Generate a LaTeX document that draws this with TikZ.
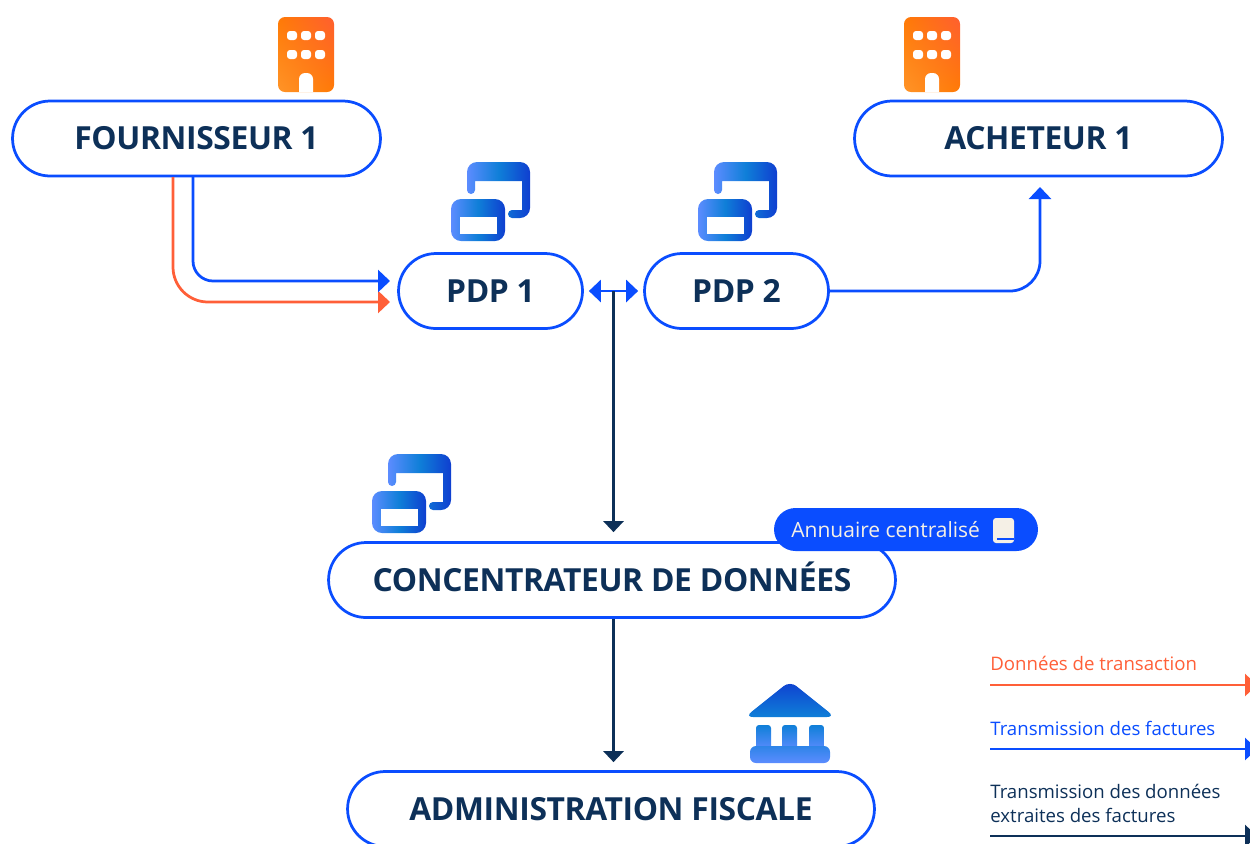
\documentclass[tikz,border=0pt]{standalone}
\usepackage{fontspec}
\setmainfont{Open Sans}
\usetikzlibrary{arrows.meta, calc, shapes.misc, shadings}
\definecolor{flowBlue}{HTML}{0A4DFF}
\definecolor{flowOrange}{HTML}{FF5F38}
\definecolor{flowDark}{HTML}{0D3058}
\definecolor{bookColor}{HTML}{F5F0E6}
\definecolor{orangeLight}{HTML}{FF9428}
\definecolor{orangeMid}{HTML}{FF7A05}
\definecolor{orangeDark}{HTML}{FF5F30}
\definecolor{stackLight}{HTML}{5C8CFF}
\definecolor{stackMid}{HTML}{0F7FD8}
\definecolor{stackDark}{HTML}{0F3FD0}

% icons are drawn in pixels from their top left corner
\newcommand{\buildingIcon}[2]{
	\begin{scope}[shift={(#1,#2)}]
		\shade[lower left=orangeLight, lower right=orangeMid, upper left=orangeMid, upper right=orangeDark, rounded corners=.14cm] (0,0) rectangle (56,75);
		\foreach \wx in {9, 23, 37} {
			\foreach \wy in {14, 33} {
				\fill[white, rounded corners=.06cm] (\wx,\wy) rectangle ++(10,9);
			}
		}
		\fill[white, rounded corners=.12cm] (21,75) -- (21,56) -- (35,56) [sharp corners] -- (35,75) -- cycle;
	\end{scope}
}
\newcommand{\stackIcon}[2]{
	\begin{scope}[shift={(#1,#2)}]
		\shade[stackShade, rounded corners=.2cm] (16,28) -- (16,0) -- (79,0) -- (79,56) [sharp corners] -- (61,56) -- (61,48) -- (71,48) -- (71,19) -- (24,19) -- (24,28) -- cycle
			(20,28) circle (4) (61,52) circle (4);
		\shade[stackShade, rounded corners=.2cm] (0,37) rectangle (54,79);
		\fill[white] (9,55) rectangle (46,72);
	\end{scope}
}

\tikzset{
	stackShade/.style={left color=stackLight, right color=stackDark, middle color=stackMid},
	actorBox/.style={draw=flowBlue, line width=.055cm, fill=white, rounded rectangle, minimum height=1.5cm, inner sep=0pt, text=flowDark, text height=13pt, text depth=0pt, font=\fontsize{18.1}{22}\selectfont\bfseries\addfontfeature{LetterSpace=-1.2}},
	legendText/.style={anchor=west, align=left, inner sep=0pt, font=\fontsize{10.6}{13.6}\selectfont},
	flowLine/.style={line width=.055cm, -{Triangle[length=.24cm, width=.44cm]}}
}

\begin{document}
\begin{tikzpicture}[x=.02cm, y=-.02cm]
		\useasboundingbox (0,0) rectangle (1250,843);
		\clip (0,0) rectangle (1250,843);
		
		% --- 1. Boxes ---
		\node[actorBox, minimum width=7.36cm] (fournisseur) at (196.5,138.5) {FOURNISSEUR 1};
		\node[actorBox, minimum width=7.36cm] (acheteur) at (1038.5,138.5) {ACHETEUR 1};
		\node[actorBox, minimum width=3.68cm] (pdpOne) at (490.5,291) {PDP 1};
		\node[actorBox, minimum width=3.68cm] (pdpTwo) at (736.5,291) {PDP 2};
		\node[actorBox, minimum width=11.34cm] (concentrateur) at (612,580) {CONCENTRATEUR DE DONNÉES};
		\node[actorBox, minimum width=10.54cm] (administration) at (611,809) {ADMINISTRATION FISCALE};
		
		% --- 2. Icons ---
		\buildingIcon{278}{17}
		\buildingIcon{904}{17}
		\stackIcon{451}{162}
		\stackIcon{698}{162}
		\stackIcon{372}{454}
		
		% bank
		\shade[top color=stackDark, bottom color=stackMid, rounded corners=.16cm] (790,681) -- (835,717) -- (745,717) -- cycle;
		\shade[top color=stackMid, bottom color=stackLight, rounded corners=.06cm] (756,725) rectangle (771,750) (782,725) rectangle (797,750) (809,725) rectangle (824,750);
		\shade[top color=stackMid!60!stackLight, bottom color=stackLight, rounded corners=.12cm] (750,746) rectangle (830,763);
		
		% --- 3. Connectors ---
		\coordinate (fourBlue) at (193,177);
		\coordinate (fourOrange) at (173,177);
		\coordinate (pdpBlue) at (390,281);
		\coordinate (pdpOrange) at (390,302);
		\coordinate (acheteurIn) at (1040,187);
		\coordinate (pdpLink) at ($(pdpOne.east)!.5!(pdpTwo.west)$);
		
		\draw[flowLine, flowOrange, rounded corners=.7cm] (fourOrange) |- (pdpOrange);
		\draw[flowLine, flowBlue, rounded corners=.4cm] (fourBlue) |- (pdpBlue);
		\draw[flowLine, flowBlue, rounded corners=.6cm] (pdpTwo.east) -| (acheteurIn);
		\draw[line width=.055cm, flowBlue, {Triangle[length=.24cm, width=.44cm]}-{Triangle[length=.24cm, width=.44cm]}, shorten <=.1cm, shorten >=.1cm] (pdpOne.east) -- (pdpTwo.west);
		\draw[line width=.055cm, flowDark, -{Triangle[length=.22cm, width=.4cm]}, shorten >=.18cm] (pdpLink) -- (pdpLink |- concentrateur.north);
		\draw[line width=.055cm, flowDark, -{Triangle[length=.22cm, width=.4cm]}, shorten >=.16cm] (pdpLink |- concentrateur.south) -- (pdpLink |- administration.north);
		
		% --- 4. Directory tag ---
		\node[fill=flowBlue, rounded rectangle, minimum width=5.28cm, minimum height=.86cm, inner sep=0pt] (annuaire) at (906,529.5) {};
		\node[anchor=west, inner sep=0pt, text=bookColor, font=\fontsize{11.95}{14}\selectfont] (annuaireText) at (791,529.5) {Annuaire centralisé};
		\fill[bookColor, rounded corners=.06cm] (993,518) rectangle (1014,543);
		\fill[flowBlue] (997,538) rectangle (1014,540);
		
		% --- 5. Legend ---
		\node[legendText, text=flowOrange] (legendOrange) at (990,663.5) {Données de transaction};
		\node[legendText, text=flowBlue] (legendBlue) at (990,728.5) {Transmission des factures};
		\node[legendText, text=flowDark] (legendDark) at (990,803.5) {Transmission des données\\extraites des factures};
		
		\foreach \lname/\lcolor/\ly in {orange/flowOrange/685, blue/flowBlue/749, dark/flowDark/836} {
			\coordinate (\lname Start) at (990,\ly);
			\coordinate (\lname End) at (1257,\ly);
			\draw[flowLine, \lcolor] (\lname Start) -- (\lname End);
		}
		
	\end{tikzpicture}
\end{document}
